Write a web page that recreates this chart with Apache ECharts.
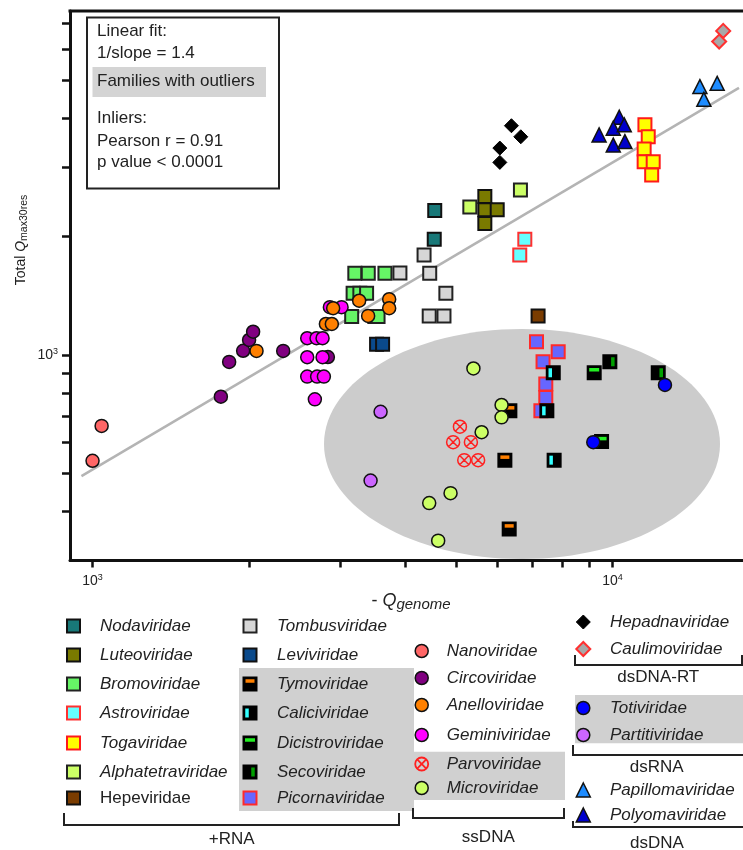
<!DOCTYPE html>
<html>
<head>
<meta charset="utf-8">
<script src="https://cdn.jsdelivr.net/npm/echarts@6/dist/echarts.min.js"></script>
<style>html,body{margin:0;padding:0;background:#fff}#c{width:743px;height:850px}</style>
</head>
<body>
<div id="c"></div>
<script>
// ---------------- data ----------------
const xMin = 905, xMax = 17815, yMin = 300, yMax = 7500;
const xTickValues = [1000, 2000, 3000, 4000, 5000, 6000, 7000, 8000, 9000, 10000];
const yTickValues = [400, 500, 600, 700, 800, 900, 1000, 2000, 3000, 4000, 5000, 6000, 7000];
const xLabelValues = [1000, 10000];
const yLabelValues = [1000];

const fitLineX = [952, 17500];
const fitLineY = [492, 4780];

const tombusviridae = [[3900,1617],[4340,1797],[4450,1614],[4780,1435],[4440,1257],[4740,1257]];
const bromoviridae = [[3194,1614],[3390,1614],[3650,1614],[3170,1435],[3266,1435],[3365,1435],[3150,1252],[3490,1252],[3540,1252]];
const nodaviridae = [[4550,2330],[4540,1970]];
const alphatetraviridae = [[6650,2630],[5315,2380]];
const luteoviridae = [[5680,2530],[5680,2340],[6000,2340],[5680,2160]];
const astroviridae = [[6780,1970],[6630,1797]];
const togaviridae = [[11540,3850],[11710,3590],[11500,3340],[11500,3100],[11970,3100],[11890,2870]];
const leviviridae = [[3517,1065],[3612,1065]];
const hepeviridae = [[7190,1257]];
const picornaviridae = [[7140,1081],[7860,1019],[7350,961],[7440,844],[7440,780],[7280,721]];
const caliciviridae = [[7690,901],[7475,721],[7720,540]];
const tymoviridae = [[6346,721],[6207,540],[6327,361]];
const dicistroviridae = [[9218,901],[9524,602]];
const secoviridae = [[9880,961],[12240,901]];
const nanoviridae = [[1041,660],[1000,538]];
const circoviridae = [[1765,783],[1831,960],[1948,1025],[2000,1092],[2036,1146],[2326,1024],[2835,988]];
const geminiviridae = [[2860,1323],[3012,1323],[2587,1103],[2696,1103],[2769,1103],[2587,987],[2769,987],[2587,881],[2703,881],[2785,881],[2676,771]];
const anelloviridae = [[2067,1024],[2902,1315],[2810,1199],[2885,1199],[3256,1374],[3388,1257],[3719,1386],[3719,1315]];
const parvoviridae = [[5087,657],[4936,600],[5340,600],[5185,540],[5514,540]];
const microviridae = [[5400,924],[6117,746],[6117,694],[5600,636],[4880,445],[4440,420],[4620,337]];
const hepadnaviridae = [[6390,3830],[6660,3590],[6070,3360],[6070,3090]];
const caulimoviridae = [[16320,6675],[16030,6270]];
const totiviridae = [[12610,839],[9180,600]];
const partitiviridae = [[3580,717],[3425,479]];
const papillomaviridae = [[14720,4816],[15890,4910],[14980,4470]];
const polyomaviridae = [[10300,4025],[10030,3775],[10530,3850],[9420,3630],[10030,3420],[10560,3490]];

const insetLines = ['Linear fit:', '1/slope = 1.4', 'Families with outliers', 'Inliers:', 'Pearson r = 0.91', 'p value < 0.0001'];

// ---------------- styles ----------------
const FONT = '"Liberation Sans", Arial, Helvetica, sans-serif';
const TXT = '#222';
const S = (shape, fill, stroke, lw, size, bar) => ({shape, fill, stroke, lw, size, bar});
const familyStyles = {
  Nodaviridae: S('rect', '#187878', '#111', 2, 13),
  Luteoviridae: S('rect', '#7a7a00', '#111', 2, 13),
  Bromoviridae: S('rect', '#66f566', '#222', 2, 13),
  Astroviridae: S('rect', '#66ffff', '#ff3030', 2, 13),
  Togaviridae: S('rect', '#ffff00', '#ff1a1a', 2, 13),
  Alphatetraviridae: S('rect', '#ccff66', '#222', 2, 13),
  Hepeviridae: S('rect', '#7a3c00', '#111', 2, 13),
  Tombusviridae: S('rect', '#d6d6d6', '#222', 2, 13),
  Leviviridae: S('rect', '#0a4a8c', '#111', 2, 13),
  Tymoviridae: S('rect', '#000', '#000', 2, 13, {w: 9, h: 3.5, dx: 0, dy: -3, color: '#ff8000'}),
  Caliciviridae: S('rect', '#000', '#000', 2, 13, {w: 3.5, h: 9, dx: -3, dy: 0, color: '#33ffff'}),
  Dicistroviridae: S('rect', '#000', '#000', 2, 13, {w: 10, h: 3.5, dx: 0, dy: -3, color: '#22ee22'}),
  Secoviridae: S('rect', '#000', '#000', 2, 13, {w: 3.5, h: 9, dx: 3, dy: 0, color: '#00a000'}),
  Picornaviridae: S('rect', '#6666ff', '#ff2a2a', 2, 13),
  Nanoviridae: S('circle', '#ff6666', '#111', 1.5, 13),
  Circoviridae: S('circle', '#800080', '#111', 1.5, 13),
  Anelloviridae: S('circle', '#ff8000', '#111', 1.5, 13),
  Geminiviridae: S('circle', '#ff00ff', '#111', 1.5, 13),
  Parvoviridae: S('parvo', 'rgba(0,0,0,0)', '#ff2020', 1.5, 13),
  Microviridae: S('circle', '#ccff66', '#111', 1.5, 13),
  Hepadnaviridae: S('diamond', '#000', '#000', 1, 14),
  Caulimoviridae: S('diamond', '#a8a8a8', '#ff3030', 2, 14),
  Totiviridae: S('circle', '#0000ff', '#111', 1.5, 13),
  Partitiviridae: S('circle', '#cc66ff', '#111', 1.5, 13),
  Papillomaviridae: S('triangle', '#1e8cff', '#111', 1.5, 14),
  Polyomaviridae: S('triangle', '#0000cc', '#111', 1.5, 14)
};
const PARVO_PATH = 'path://M0,10A10,10,0,1,1,20,10A10,10,0,1,1,0,10Z M2.93,2.93L17.07,17.07 M17.07,2.93L2.93,17.07';

const seriesOrder = [
  ['Tombusviridae', tombusviridae], ['Bromoviridae', bromoviridae], ['Nodaviridae', nodaviridae],
  ['Alphatetraviridae', alphatetraviridae], ['Luteoviridae', luteoviridae], ['Astroviridae', astroviridae],
  ['Togaviridae', togaviridae], ['Leviviridae', leviviridae], ['Hepeviridae', hepeviridae],
  ['Picornaviridae', picornaviridae], ['Caliciviridae', caliciviridae], ['Tymoviridae', tymoviridae],
  ['Dicistroviridae', dicistroviridae], ['Secoviridae', secoviridae], ['Nanoviridae', nanoviridae],
  ['Circoviridae', circoviridae], ['Geminiviridae', geminiviridae], ['Anelloviridae', anelloviridae],
  ['Parvoviridae', parvoviridae], ['Microviridae', microviridae], ['Hepadnaviridae', hepadnaviridae],
  ['Caulimoviridae', caulimoviridae], ['Totiviridae', totiviridae], ['Partitiviridae', partitiviridae],
  ['Papillomaviridae', papillomaviridae], ['Polyomaviridae', polyomaviridae]
];

// ---------------- series ----------------
const series = [{
  type: 'line', name: 'fit', data: fitLineX.map((x, i) => [x, fitLineY[i]]),
  showSymbol: false, symbol: 'none', lineStyle: {color: '#b4b4b4', width: 2.5}, z: 1, silent: true
}];
seriesOrder.forEach(([name, data]) => {
  const st = familyStyles[name];
  const sym = st.shape === 'parvo' ? PARVO_PATH : st.shape;
  series.push({
    type: 'scatter', name, data, symbol: sym, symbolSize: st.size,
    itemStyle: {color: st.fill, borderColor: st.stroke, borderWidth: st.lw, opacity: 1},
    z: 3, silent: true
  });
  if (st.bar) {
    series.push({
      type: 'scatter', name: name + '-bar', data, symbol: 'rect',
      symbolSize: [st.bar.w, st.bar.h], symbolOffset: [st.bar.dx, st.bar.dy],
      itemStyle: {color: st.bar.color, borderWidth: 0, opacity: 1}, z: 3, silent: true
    });
  }
});

// ---------------- graphic: legend, inset, titles ----------------
function marker(st, cx, cy) {
  const s = st.size, h = s / 2;
  const base = {fill: st.fill, stroke: st.stroke, lineWidth: st.lw};
  const els = [];
  if (st.shape === 'rect') els.push({type: 'rect', shape: {x: cx - h, y: cy - h, width: s, height: s}, style: base});
  else if (st.shape === 'circle') els.push({type: 'circle', shape: {cx, cy, r: h}, style: base});
  else if (st.shape === 'diamond') els.push({type: 'polygon', shape: {points: [[cx, cy - h], [cx + h, cy], [cx, cy + h], [cx - h, cy]]}, style: base});
  else if (st.shape === 'triangle') els.push({type: 'polygon', shape: {points: [[cx, cy - h], [cx + h, cy + h], [cx - h, cy + h]]}, style: base});
  else if (st.shape === 'parvo') {
    els.push({type: 'circle', shape: {cx, cy, r: h}, style: {fill: 'none', stroke: st.stroke, lineWidth: 1.8}});
    const d = h * 0.7;
    els.push({type: 'line', shape: {x1: cx - d, y1: cy - d, x2: cx + d, y2: cy + d}, style: {stroke: st.stroke, lineWidth: 1.8}});
    els.push({type: 'line', shape: {x1: cx + d, y1: cy - d, x2: cx - d, y2: cy + d}, style: {stroke: st.stroke, lineWidth: 1.8}});
  }
  if (st.bar) {
    const b = st.bar;
    els.push({type: 'rect', shape: {x: cx + b.dx - b.w / 2, y: cy + b.dy - b.h / 2, width: b.w, height: b.h}, style: {fill: b.color}});
  }
  return els;
}

const legendLayout = [
  {mx: 73.5, tx: 100, rows: [626, 655, 684, 713, 743, 772, 798],
   names: ['Nodaviridae', 'Luteoviridae', 'Bromoviridae', 'Astroviridae', 'Togaviridae', 'Alphatetraviridae', 'Hepeviridae']},
  {mx: 250, tx: 277, rows: [626, 655, 684, 713, 743, 772, 798],
   names: ['Tombusviridae', 'Leviviridae', 'Tymoviridae', 'Caliciviridae', 'Dicistroviridae', 'Secoviridae', 'Picornaviridae']},
  {mx: 421.7, tx: 446.7, rows: [651, 678, 705, 735, 764, 788],
   names: ['Nanoviridae', 'Circoviridae', 'Anelloviridae', 'Geminiviridae', 'Parvoviridae', 'Microviridae']},
  {mx: 583.3, tx: 610, rows: [622, 649, 708, 735, 790, 815],
   names: ['Hepadnaviridae', 'Caulimoviridae', 'Totiviridae', 'Partitiviridae', 'Papillomaviridae', 'Polyomaviridae']}
];
const uprightNames = ['Hepeviridae'];
const legendBoxes = [[239, 668, 175, 143], [411.7, 751.7, 153.3, 48.3], [575, 695, 175, 48.3]];
const brackets = [
  [[64, 813], [64, 825], [399, 825], [399, 813]],
  [[413, 808], [413, 818], [564, 818], [564, 808]],
  [[575, 655], [575, 665], [742, 665], [742, 655]],
  [[573, 745], [573, 755], [760, 755]],
  [[573, 821], [573, 827], [760, 827]]
];
const groupLabels = [['+RNA', 231.7, 839.5], ['ssDNA', 488.3, 837], ['dsDNA-RT', 658.3, 677.5], ['dsRNA', 656.7, 767], ['dsDNA', 657, 843.5]];
const insetY = [31.7, 53.3, 81.7, 118.3, 141.7, 162.7];

const graphic = [];
// grey outlier ellipse (behind points)
graphic.push({type: 'ellipse', shape: {cx: 522, cy: 444, rx: 198, ry: 115}, style: {fill: '#cccccc'}, z: -5, silent: true});
// top frame line of the plot (frame continues past the right edge of the picture)
graphic.push({type: 'line', shape: {x1: 68.5, y1: 11, x2: 760, y2: 11}, style: {stroke: '#111', lineWidth: 3}, z: 5});
// inset box
graphic.push({type: 'rect', shape: {x: 87, y: 17.5, width: 192, height: 171}, style: {fill: '#fff', stroke: '#222', lineWidth: 2}, z: 10});
graphic.push({type: 'rect', shape: {x: 92.5, y: 67, width: 173.5, height: 30}, style: {fill: '#d4d4d4'}, z: 10});
insetLines.forEach((t, i) => graphic.push({
  type: 'text', x: 97, y: insetY[i], z: 11,
  style: {text: t, fill: TXT, fontSize: 17, fontFamily: FONT, align: 'left', verticalAlign: 'middle'}
}));
// legend backgrounds
legendBoxes.forEach(b => graphic.push({type: 'rect', shape: {x: b[0], y: b[1], width: b[2], height: b[3]}, style: {fill: '#d0d0d0'}, z: 10}));
// legend entries
legendLayout.forEach(col => col.names.forEach((n, i) => {
  marker(familyStyles[n], col.mx, col.rows[i]).forEach(e => { e.z = 11; graphic.push(e); });
  graphic.push({type: 'text', x: col.tx, y: col.rows[i], z: 11,
    style: {text: n, fill: TXT, fontSize: 17, fontFamily: FONT, fontStyle: uprightNames.includes(n) ? 'normal' : 'italic', align: 'left', verticalAlign: 'middle'}});
}));
brackets.forEach(p => graphic.push({type: 'polyline', shape: {points: p}, style: {stroke: '#222', lineWidth: 2, fill: 'none'}, z: 11}));
groupLabels.forEach(g => graphic.push({type: 'text', x: g[1], y: g[2], z: 11,
  style: {text: g[0], fill: TXT, fontSize: 17, fontFamily: FONT, align: 'center', verticalAlign: 'middle'}}));
// axis titles
graphic.push({type: 'text', x: 21, y: 240, rotation: Math.PI / 2, z: 11, style: {
  text: '{a|Total }{q|Q}{s|max30res}', align: 'center', verticalAlign: 'middle',
  rich: {a: {fontSize: 14, fontFamily: FONT, fill: TXT, lineHeight: 18},
         q: {fontSize: 14, fontFamily: FONT, fill: TXT, fontStyle: 'italic', lineHeight: 18},
         s: {fontSize: 10.5, fontFamily: FONT, fill: TXT, lineHeight: 10, verticalAlign: 'bottom'}}
}});
graphic.push({type: 'text', x: 411, y: 601, z: 11, style: {
  text: '{a|- }{q|Q}{s|genome}', align: 'center', verticalAlign: 'middle',
  rich: {a: {fontSize: 18, fontFamily: FONT, fill: TXT, lineHeight: 22},
         q: {fontSize: 18, fontFamily: FONT, fill: TXT, fontStyle: 'italic', lineHeight: 22},
         s: {fontSize: 15, fontFamily: FONT, fill: TXT, fontStyle: 'italic', lineHeight: 14, verticalAlign: 'bottom'}}
}});

// ---------------- axes ----------------
const supRich = {
  b: {fontSize: 14, fontFamily: FONT, color: TXT, lineHeight: 16},
  p: {fontSize: 9, fontFamily: FONT, color: TXT, lineHeight: 9, verticalAlign: 'top'}
};
const supFmt = v => '{b|10}{p|' + Math.round(v) + '}';
const lineAxis = {show: true, onZero: false, lineStyle: {color: '#111', width: 3}};

const option = {
  animation: false,
  backgroundColor: '#fff',
  grid: {left: 70, top: 11, width: 673, height: 549.5, show: false, outerBoundsMode: 'none', containLabel: false},
  xAxis: [
    {type: 'log', min: xMin, max: xMax, axisLine: lineAxis, axisTick: {show: false}, axisLabel: {show: false}, splitLine: {show: false}, minorTick: {show: false}},
    {type: 'value', min: Math.log10(xMin), max: Math.log10(xMax), position: 'bottom', offset: 0,
     axisLine: {show: false, onZero: false},
     axisTick: {show: true, customValues: xTickValues.map(Math.log10), length: 7, inside: false, lineStyle: {color: '#111', width: 2.5}},
     axisLabel: {show: true, customValues: xLabelValues.map(Math.log10), formatter: supFmt, margin: 13, rich: supRich},
     splitLine: {show: false}}
  ],
  yAxis: [
    {type: 'log', min: yMin, max: yMax, axisLine: lineAxis, axisTick: {show: false}, axisLabel: {show: false}, splitLine: {show: false}, minorTick: {show: false}},
    {type: 'value', min: Math.log10(yMin), max: Math.log10(yMax), position: 'left', offset: 0,
     axisLine: {show: false, onZero: false},
     axisTick: {show: true, customValues: yTickValues.map(Math.log10), length: 8, inside: false, lineStyle: {color: '#111', width: 2.5}},
     axisLabel: {show: true, customValues: yLabelValues.map(Math.log10), formatter: supFmt, margin: 12, rich: supRich},
     splitLine: {show: false}}
  ],
  series: series.map(s => Object.assign({xAxisIndex: 0, yAxisIndex: 0}, s)),
  graphic: graphic
};

const chart = echarts.init(document.getElementById('c'), null, {renderer: 'canvas'});
chart.setOption(option);
</script>
</body>
</html>
